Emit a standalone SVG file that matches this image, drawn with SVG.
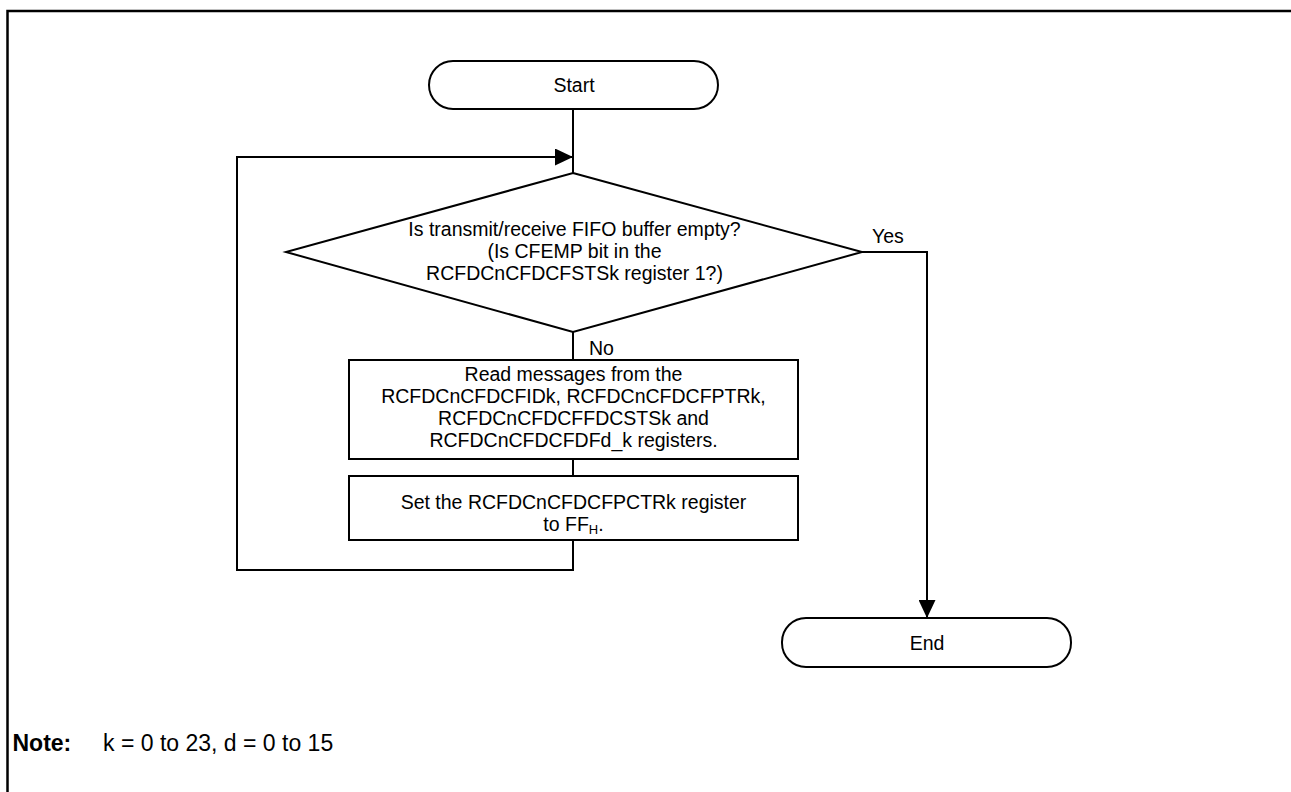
<svg xmlns="http://www.w3.org/2000/svg" width="1291" height="792" viewBox="0 0 1291 792">
<style>
.shape{fill:#fff;stroke:#000;stroke-width:2}
.conn{fill:none;stroke:#000;stroke-width:2}
.t{font-family:"Liberation Sans",Arial,sans-serif;font-size:19.5px;fill:#000}
.c{text-anchor:middle}
.note{font-family:"Liberation Sans",Arial,sans-serif;font-size:23px;fill:#000}
</style>
<defs>
<marker id="arr" markerUnits="userSpaceOnUse" markerWidth="18" markerHeight="17" refX="18" refY="8.5" orient="auto">
<path d="M0,0 L18,8.5 L0,17 z" fill="#000"/>
</marker>
</defs>
<rect width="1291" height="792" fill="#fff"/>
<path d="M7.5,792 V11 H1291" fill="none" stroke="#000" stroke-width="2.5"/>
<g id="connectors">
<path class="conn" d="M573,109 V173"/>
<path class="conn" d="M573,332 V360"/>
<path class="conn" d="M573,459 V476"/>
<path class="conn" d="M573,540 V570 H237 V157 H573" marker-end="url(#arr)"/>
<path class="conn" d="M862,252 H927 V618" marker-end="url(#arr)"/>
<text class="t" x="589" y="355">No</text>
<text class="t" x="872" y="243">Yes</text>
</g>
<g id="start">
<rect class="shape" x="429" y="61" width="289" height="48" rx="24" ry="24"/>
<text class="t c" x="574" y="92">Start</text>
</g>
<g id="decision">
<polygon class="shape" points="573,173 862,252 573,332 286,252"/>
<text class="t c" x="574.5" y="236">Is transmit/receive FIFO buffer empty?</text>
<text class="t c" x="574.5" y="258">(Is CFEMP bit in the</text>
<text class="t c" x="574.5" y="280">RCFDCnCFDCFSTSk register 1?)</text>
</g>
<g id="read">
<rect class="shape" x="349" y="360" width="449" height="99"/>
<text class="t c" x="573.5" y="381">Read messages from the</text>
<text class="t c" x="573.5" y="403">RCFDCnCFDCFIDk, RCFDCnCFDCFPTRk,</text>
<text class="t c" x="573.5" y="425">RCFDCnCFDCFFDCSTSk and</text>
<text class="t c" x="573.5" y="447">RCFDCnCFDCFDFd_k registers.</text>
</g>
<g id="set">
<rect class="shape" x="349" y="476" width="449" height="64"/>
<text class="t c" x="573.5" y="509">Set the RCFDCnCFDCFPCTRk register</text>
<text class="t c" x="573.5" y="531">to FF<tspan font-size="13" dy="3">H</tspan><tspan dy="-3">.</tspan></text>
</g>
<g id="end">
<rect class="shape" x="782" y="618" width="289" height="49" rx="24" ry="24"/>
<text class="t c" x="927" y="650">End</text>
</g>
<g id="note">
<text class="note" x="12.5" y="751" font-weight="bold">Note:</text>
<text class="note" x="103" y="751">k = 0 to 23, d = 0 to 15</text>
</g>
</svg>
